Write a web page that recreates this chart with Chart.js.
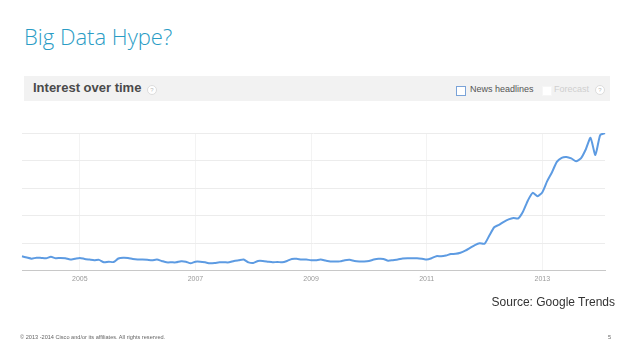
<!DOCTYPE html>
<html>
<head>
<meta charset="utf-8">
<script src="https://cdn.jsdelivr.net/npm/chart.js@4"></script>
<style>
  body { margin: 0; background: #fff; font-family: "Helvetica Neue", "Liberation Sans", Arial, sans-serif; }
  #wrap { position: relative; width: 638px; height: 360px; overflow: hidden; }
  #chart { position: absolute; left: 0; top: 0; }
  .abs { position: absolute; white-space: nowrap; }
  #title { left: 24px; top: 21px; font-family: "Open Sans", sans-serif; font-weight: 300; font-size: 22px; color: #2a9cc5; }
  #bar { left: 24px; top: 76px; width: 586px; height: 25px; background: #f2f2f2; }
  #barTitle { left: 33px; top: 80px; font-size: 13px; font-weight: bold; color: #4a4a4a; }
  .help { width: 8px; height: 8px; border: 1px solid #ddd; border-radius: 50%; background: #fff; font-size: 6px; color: #bbb; text-align: center; line-height: 8px; }
  #newsBox { left: 456px; top: 86px; width: 8px; height: 8px; border: 1px solid #7aa3d8; background: #fff; }
  #newsText { left: 470px; top: 84px; font-size: 9px; color: #555; }
  #fcBox { left: 542px; top: 86px; width: 8px; height: 8px; border: 1px solid #f6f6f6; background: #fff; }
  #fcText { left: 554px; top: 84px; font-size: 9px; color: #cfcfcf; }
  #source { right: 23px; top: 295px; font-size: 12px; color: #333; }
  #footer { left: 20px; top: 334px; font-size: 5.6px; color: #666; }
  #page { left: 608px; top: 334px; font-size: 5.6px; color: #666; }
</style>
</head>
<body>
<div id="wrap">
  <div class="abs" id="title">Big Data Hype?</div>
  <div class="abs" id="bar"></div>
  <div class="abs" id="barTitle">Interest over time</div>
  <div class="abs help" style="left:147px; top:85px;">?</div>
  <div class="abs" id="newsBox"></div>
  <div class="abs" id="newsText">News headlines</div>
  <div class="abs" id="fcBox"></div>
  <div class="abs" id="fcText">Forecast</div>
  <div class="abs help" style="left:595px; top:85px;">?</div>
  <canvas id="chart" width="638" height="360"></canvas>
  <div class="abs" id="source">Source: Google Trends</div>
  <div class="abs" id="footer">© 2013 -2014 Cisco and/or its affiliates. All rights reserved.</div>
  <div class="abs" id="page">5</div>
</div>
<script>
// monthly, Jan 2004 .. Feb 2014
const startYear = 2004;
const interest = [
  10.4, 9.5, 8.7, 9.4, 9.2, 9, 10, 9, 9.2, 9, 8, 8.6,
  9.2, 8.5, 8, 7.5, 7.8, 6, 6.5, 6.2, 8.8, 9.4, 9.2, 8.4,
  8, 8, 7.8, 7.5, 8, 7, 6, 6, 6, 6.8, 6.5, 5.3,
  6.5, 6.5, 6, 5.3, 5.5, 6, 6, 6, 7, 7.5, 8, 6,
  5.5, 7, 7, 6.5, 6, 6.3, 6, 7, 8.5, 8.6, 8, 8,
  7.6, 7.6, 8, 7.3, 6.7, 6.7, 6.7, 7.5, 7.8, 7, 6.7, 6.7,
  7, 8, 8.6, 8.5, 7.2, 7.6, 8, 8.8, 9, 9, 9, 8.6,
  8, 9, 10.5, 10.4, 11, 12, 12.2, 13, 14.5, 16.5, 18.5, 19.8,
  19.5, 25.5, 31.5, 33.3, 35.5, 37.2, 38.2, 38, 43, 51, 56.5, 54,
  57, 65, 71.5, 79, 82, 82.6, 81.5, 79.5, 81.5, 88, 96.5, 84,
  98.5, 100
];
const months = interest.map((v, i) => {
  const y = startYear + Math.floor(i / 12);
  const m = (i % 12) + 1;
  return y + "-" + (m < 10 ? "0" + m : m);
});
const yearTicks = ["2005", "2007", "2009", "2011", "2013"];

const ctx = document.getElementById("chart").getContext("2d");
new Chart(ctx, {
  type: "line",
  data: {
    labels: months,
    datasets: [{
      data: interest,
      borderColor: "#5d9be2",
      borderWidth: 2,
      pointRadius: 0,
      tension: 0.2,
      fill: false
    }]
  },
  options: {
    responsive: false,
    animation: false,
    layout: { padding: { left: 22, right: 33, top: 133, bottom: 73 } },
    plugins: { legend: { display: false }, tooltip: { enabled: false } },
    scales: {
      x: {
        grid: { color: "#f3f3f3", drawTicks: false },
        border: { color: "#c8c8c8", width: 1 },
        ticks: {
          autoSkip: false,
          maxRotation: 0,
          padding: 4,
          color: "#9a9a9a",
          font: { size: 7 },
          callback: function (val, idx) {
            const lab = months[idx];
            const y = lab.slice(0, 4);
            if (lab.slice(5) === "01" && yearTicks.includes(y)) return y;
            return null;
          }
        }
      },
      y: {
        min: 0,
        max: 100,
        ticks: { display: false, stepSize: 20 },
        grid: { color: "#ececec", drawTicks: false },
        border: { display: false }
      }
    }
  }
});
</script>
</body>
</html>
